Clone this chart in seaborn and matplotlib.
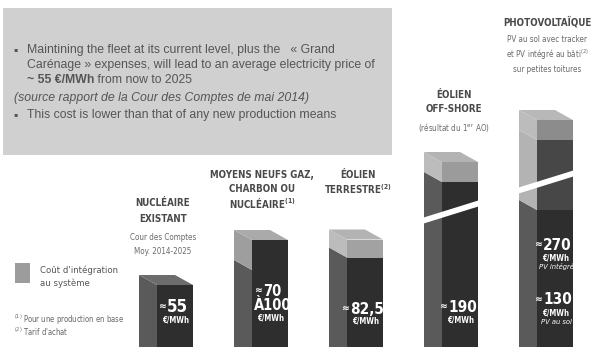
import glob
import os

import matplotlib
matplotlib.use("Agg")
import matplotlib.pyplot as plt
from matplotlib import font_manager
from matplotlib.font_manager import FontProperties
from matplotlib.patches import Polygon, Rectangle
import pandas as pd
import seaborn as sns

# ---- cost per technology, €/MWh ----
categories = ["Nucléaire existant", "Moyens neufs", "Éolien terrestre",
              "Éolien off-shore", "Photovoltaïque"]
cost_low = [55, 70, 82.5, 190, 130]
cost_high = [55, 100, 82.5, 190, 270]
integration_cost = [0, 0, 18, 20, 20]
# value span cut out of the two tallest columns (broken bars)
break_from = [None, None, None, 128, 158]
break_to = [None, None, None, 160, 228]

title_lines = [["NUCLÉAIRE", "EXISTANT"],
               ["MOYENS NEUFS GAZ,", "CHARBON OU", "NUCLÉAIRE$^{(1)}$"],
               ["ÉOLIEN", "TERRESTRE$^{(2)}$"],
               ["ÉOLIEN", "OFF-SHORE"],
               ["PHOTOVOLTAÏQUE"]]
subtitle_lines = [["Cour des Comptes", "Moy. 2014-2025"],
                  [],
                  [],
                  ["(résultat du 1$^{\\rm er}$ AO)"],
                  ["PV au sol avec tracker", "et PV intégré au bâti$^{(2)}$",
                   "sur petites toitures"]]

box_lines = ["Maintining the fleet at its current level, plus the   « Grand",
             "Carénage » expenses, will lead to an average electricity price of"]
box_bold = "~ 55 €/MWh"
box_tail = " from now to 2025"
box_source = "(source rapport de la Cour des Comptes de mai 2014)"
box_last = "This cost is lower than that of any new production means"
legend_label = ["Coût d'intégration", "au système"]
footnotes = ["$^{(1)}$ Pour une production en base", "$^{(2)}$ Tarif d'achat"]

# ---- colours (front face / side face / top face) ----
front_base = ["#2e2e2e"] * 5
front_upper = ["#2e2e2e", "#2e2e2e", "#2e2e2e", "#2e2e2e", "#474747"]
front_cap = ["#2e2e2e", "#2e2e2e", "#a2a2a2", "#9b9b9b", "#8c8c8c"]
side_base = "#5a5a5a"
side_upper = ["#5a5a5a", "#9e9e9e", "#5a5a5a", "#5a5a5a", "#b3b3b3"]
side_cap = "#bcbcbc"
top_face = ["#6c6c6c", "#aaaaaa", "#b3b3b3", "#b3b3b3", "#b8b8b8"]

sns.set_theme(style="white")
plt.rcParams["font.family"] = ["Liberation Sans", "DejaVu Sans"]
plt.rcParams["mathtext.fontset"] = "dejavusans"
plt.rcParams["mathtext.default"] = "regular"


# ---- narrow face for the infographic labels ----
def find_font(names):
    known = {os.path.basename(f.fname): f.fname for f in font_manager.fontManager.ttflist}
    for n in names:
        if n in known:
            return known[n]
    for root in ["/usr/share/fonts", "/usr/local/share/fonts",
                 os.path.expanduser("~/.fonts"), os.path.expanduser("~/.local/share/fonts")]:
        for n in names:
            hits = glob.glob(os.path.join(root, "**", n), recursive=True)
            if hits:
                return hits[0]
    return None


NARROW_FILES = {
    "regular": find_font(["LiberationSansNarrow-Regular.ttf", "DejaVuSansCondensed.ttf"]),
    "bold": find_font(["LiberationSansNarrow-Bold.ttf", "DejaVuSansCondensed-Bold.ttf"]),
    "italic": find_font(["LiberationSansNarrow-Italic.ttf", "DejaVuSansCondensed-Oblique.ttf"]),
}


def nfont(size, kind="regular"):
    path = NARROW_FILES[kind]
    if path:
        return {"fontproperties": FontProperties(fname=path, size=size)}
    props = FontProperties(family=["Roboto", "Liberation Sans", "DejaVu Sans"], size=size * 0.95,
                           weight="bold" if kind == "bold" else "normal",
                           style="italic" if kind == "italic" else "normal")
    return {"fontproperties": props}


W, H = 593, 347
BASE_PX = 340          # pixel row of the zero line
STEP_PX = 95           # spacing between columns
X0_PX = 175            # centre of the first column
DEPTH_X = 18 / STEP_PX # oblique depth of the 3D faces
DEPTH_Y = 10
BAR_W = 36 / STEP_PX

fig = plt.figure(figsize=(W / 100, H / 100), dpi=100)
fig.patch.set_facecolor("white")
renderer = fig.canvas.get_renderer()


def fpos(px, py):
    return px / W, 1 - py / H


def dy(py):
    return BASE_PX - py


# grey information panel
fig.add_artist(Rectangle(fpos(3, 155), 389 / W, 147 / H, transform=fig.transFigure,
                         facecolor="#d0d0d0", edgecolor="none", zorder=-2))

ax = fig.add_axes([0, 0, 1, 1])
ax.patch.set_visible(False)


def shown(v, i):
    lo, hi = break_from[i], break_to[i]
    if lo is None or v <= lo:
        return v
    return v - (hi - lo)


df = pd.DataFrame({"cat": categories})
df["total"] = [shown(h + g, i) for i, (h, g) in enumerate(zip(cost_high, integration_cost))]
df["upper"] = [shown(h, i) for i, h in enumerate(cost_high)]
df["base"] = [shown(v, i) for i, v in enumerate(cost_low)]

fronts = {}
for col, colors in [("total", front_cap), ("upper", front_upper), ("base", front_base)]:
    n0 = len(ax.patches)
    sns.barplot(data=df, x="cat", y=col, hue="cat", order=categories, hue_order=categories,
                palette=dict(zip(categories, colors)), width=BAR_W, saturation=1,
                legend=False, errorbar=None, edgecolor="none", linewidth=0, ax=ax, zorder=2)
    fronts[col] = sorted(ax.patches[n0:], key=lambda p: p.get_x())

bottom = -(H - BASE_PX) - 15
for i, p in enumerate(fronts["total"]):
    x0 = p.get_x()
    x1 = x0 + p.get_width()
    top = p.get_height()
    up = fronts["upper"][i].get_height()
    lo = fronts["base"][i].get_height()
    # front face continues below the frame edge
    ax.add_patch(Rectangle((x0, bottom), x1 - x0, -bottom, facecolor=front_base[i],
                           edgecolor="none", zorder=2))
    # oblique left face, one piece per stacked segment
    for a, b, c in [(bottom, lo, side_base), (lo, up, side_upper[i]), (up, top, side_cap)]:
        if b > a:
            ax.add_patch(Polygon([(x0, a), (x0, b), (x0 - DEPTH_X, b + DEPTH_Y),
                                  (x0 - DEPTH_X, a + DEPTH_Y)], closed=True,
                                 facecolor=c, edgecolor="none", zorder=2))
    # top face
    ax.add_patch(Polygon([(x0, top), (x1, top), (x1 - DEPTH_X, top + DEPTH_Y),
                          (x0 - DEPTH_X, top + DEPTH_Y)], closed=True,
                         facecolor=top_face[i], edgecolor="none", zorder=2))
    # slanted white gap where the bar is broken
    if break_from[i] is not None:
        h = break_from[i]
        xl, xr = x0 - DEPTH_X - 0.02, x1 + 0.02
        ax.add_patch(Polygon([(xl, h - 9 - 3), (xr, h + 9 - 3), (xr, h + 9 + 3),
                              (xl, h - 9 + 3)], closed=True, facecolor="white",
                             edgecolor="none", zorder=3))

ax.set_xlim(-X0_PX / STEP_PX, (W - X0_PX) / STEP_PX)
ax.set_ylim(BASE_PX - H, BASE_PX)
ax.axis("off")


def fr(v):
    return f"{v:g}".replace(".", ",")


# ---- values written on the bars ----
num_kw = dict(color="white", va="center", zorder=5)
unit = "€/MWh"


def big(x, py, s, approx=True, size=11):
    t = ax.text(x + 2.5 / STEP_PX, dy(py), s, ha="center", **nfont(size, "bold"), **num_kw)
    if approx:
        bb = t.get_window_extent(renderer=renderer)
        xl = ax.transData.inverted().transform((bb.x0 - 0.5, bb.y0))[0]
        ax.text(xl, dy(py), "≈", ha="right", **nfont(7.5, "bold"), **num_kw)


def small(x, py, s, kind="bold", size=5.6):
    ax.text(x + 1 / STEP_PX, dy(py), s, ha="center", **nfont(size, kind), **num_kw)


big(0, 307, fr(cost_low[0]), size=12)
small(0, 320, unit)
big(1, 291, fr(cost_low[1]), size=10.5)
big(1, 305, f"À{fr(cost_high[1])}", approx=False, size=10.5)
small(1, 318, unit)
big(2, 309, fr(cost_low[2]))
small(2, 321, unit)
big(3, 307, fr(cost_low[3]))
small(3, 320, unit)
big(4, 245, fr(cost_high[4]))
small(4, 258, unit)
small(4, 267, "PV intégré", "italic", 5.4)
big(4, 300, fr(cost_low[4]))
small(4, 313, unit)
small(4, 322, "PV au sol", "italic", 5.4)

# ---- column titles ----
title_pos = [(163, [203, 219], [237, 251]),
             (262, [175, 189, 203], []),
             (358, [175, 189], []),
             (454, [95, 109], [127]),
             (547, [22], [40, 55, 70])]
for i, ((cx, ty, sy), tl, sl) in enumerate(zip(title_pos, title_lines, subtitle_lines)):
    for line, y in zip(tl, ty):
        fig.text(*fpos(cx, y), line, ha="center", va="center", color="#4a4a4a",
                 **nfont(7, "bold"))
    for line, y in zip(sl, sy):
        fig.text(*fpos(cx, y), line, ha="center", va="center", color="#6a6a6a",
                 **nfont(5.8))

# ---- legend and footnotes ----
fig.add_artist(Rectangle(fpos(15, 283), 15 / W, 20 / H, transform=fig.transFigure,
                         facecolor="#9c9c9c", edgecolor="none"))
fig.text(*fpos(40, 270), legend_label[0], ha="left", va="center", color="#555555",
         **nfont(6.8))
fig.text(*fpos(40, 283), legend_label[1], ha="left", va="center", color="#555555",
         **nfont(6.8))
fig.text(*fpos(14, 320), footnotes[0], ha="left", va="center", color="#666666",
         **nfont(5.5))
fig.text(*fpos(14, 332), footnotes[1], ha="left", va="center", color="#666666",
         **nfont(5.5))

# ---- text of the grey panel ----
txt_kw = dict(ha="left", va="center", fontsize=8.8, color="#555555")
fig.text(*fpos(13, 50), "▪", **txt_kw)
fig.text(*fpos(27, 50), box_lines[0], **txt_kw)
fig.text(*fpos(27, 65), box_lines[1], **txt_kw)
bold = fig.text(*fpos(27, 80), box_bold, fontweight="bold", **txt_kw)
bb = bold.get_window_extent(renderer=renderer)
fig.text(bb.x1 / fig.bbox.width, 1 - 80 / H, box_tail, **txt_kw)
fig.text(*fpos(14, 98), box_source, style="italic", **txt_kw)
fig.text(*fpos(13, 115), "▪", **txt_kw)
fig.text(*fpos(27, 115), box_last, **txt_kw)

fig.savefig("out.png", dpi=100, facecolor="white")
